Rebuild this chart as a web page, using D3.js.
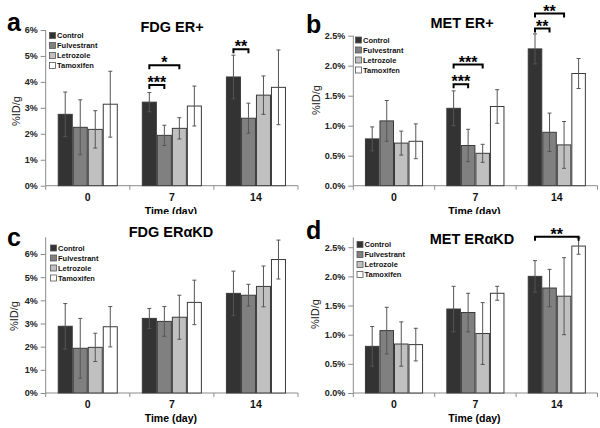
<!DOCTYPE html>
<html>
<head>
<meta charset="utf-8">
<script src="https://cdn.jsdelivr.net/npm/d3@7"></script>
<style>
  body { margin: 0; background: #fff; }
  svg { display: block; font-family: "Liberation Sans", Arial, sans-serif; }
</style>
</head>
<body>
<div id="chart"></div>
<script>
// time points and treatment groups
const days = ["0", "7", "14"];
const treatments = ["Control", "Fulvestrant", "Letrozole", "Tamoxifen"];
const fills = ["#333333", "#808080", "#c0c0c0", "#ffffff"];

// mean %ID/g, one row per day, columns follow treatments
const fdgErPos = [[2.75, 2.25, 2.17, 3.14], [3.22, 1.94, 2.21, 3.07], [4.19, 2.60, 3.49, 3.79]];
const fdgErPosErr = [[0.86, 1.06, 0.72, 1.27], [0.37, 0.39, 0.41, 0.77], [0.84, 0.58, 0.74, 1.44]];

const metErPos = [[0.78, 1.08, 0.71, 0.74], [1.29, 0.67, 0.54, 1.32], [2.28, 0.89, 0.68, 1.87]];
const metErPosErr = [[0.20, 0.34, 0.20, 0.29], [0.29, 0.27, 0.15, 0.28], [0.25, 0.32, 0.39, 0.25]];

const fdgErKd = [[2.88, 1.93, 1.97, 2.86], [3.22, 3.09, 3.27, 3.91], [4.30, 4.22, 4.60, 5.76]];
const fdgErKdErr = [[0.98, 1.29, 0.61, 0.87], [0.43, 0.64, 0.95, 0.96], [0.96, 0.47, 0.88, 0.84]];

const metErKd = [[0.80, 1.07, 0.84, 0.83], [1.44, 1.38, 1.02, 1.71], [2.00, 1.80, 1.66, 2.52]];
const metErKdErr = [[0.34, 0.40, 0.38, 0.28], [0.39, 0.33, 0.53, 0.12], [0.27, 0.32, 0.66, 0.14]];

// y ticks (in %)
const ticksFdg = [0, 1, 2, 3, 4, 5, 6];
const ticksMet = [0, 0.5, 1.0, 1.5, 2.0, 2.5];

// significance brackets: day, from/to treatment index, level (%), label
const sigFdgErPos = [
  { day: "7", from: 0, to: 1, level: 3.88, label: "***" },
  { day: "7", from: 0, to: 2, level: 4.64, label: "*" },
  { day: "14", from: 0, to: 1, level: 5.26, label: "**" }
];
const sigMetErPos = [
  { day: "7", from: 0, to: 1, level: 1.69, label: "***" },
  { day: "7", from: 0, to: 2, level: 2.02, label: "***" },
  { day: "14", from: 0, to: 1, level: 2.62, label: "**" },
  { day: "14", from: 0, to: 2, level: 2.87, label: "**" }
];
const sigFdgErKd = [];
const sigMetErKd = [
  { day: "14", from: 0, to: 3, level: 2.68, label: "**" }
];

const W = 600, H = 428;

const svg = d3.select("#chart")
  .append("svg")
  .attr("width", W)
  .attr("height", H);

const panels = [
  { letter: "a", title: "FDG ER+", mean: fdgErPos, err: fdgErPosErr, sig: sigFdgErPos, ticks: ticksFdg, fmt: d => d + "%", max: 6,
    clip: [0, 0, 300, 214], left: 45.7, right: 298, bottom: 185.7, top: 30, letterPos: [7, 31], titlePos: [172, 32],
    legend: [49, 35.5], ylab: [16, 111] },
  { letter: "b", title: "MET ER+", mean: metErPos, err: metErPosErr, sig: sigMetErPos, ticks: ticksMet, fmt: d => d.toFixed(1) + "%", max: 2.5,
    clip: [300, 0, 300, 214], left: 353.3, right: 597.5, bottom: 185.7, top: 35.7, letterPos: [306, 33], titlePos: [462, 28],
    legend: [355, 40], ylab: [316, 100] },
  { letter: "c", title: "FDG ERαKD", mean: fdgErKd, err: fdgErKdErr, sig: sigFdgErKd, ticks: ticksFdg, fmt: d => d + "%", max: 6.72,
    clip: [0, 214, 300, 214], left: 45.7, right: 298, bottom: 393, top: 237.3, letterPos: [7, 246], titlePos: [171, 237],
    legend: [50, 248], ylab: [14, 316] },
  { letter: "d", title: "MET ERαKD", mean: metErKd, err: metErKdErr, sig: sigMetErKd, ticks: ticksMet, fmt: d => d.toFixed(1) + "%", max: 2.67,
    clip: [300, 214, 300, 214], left: 353.3, right: 597.5, bottom: 393, top: 237.3, letterPos: [306, 239], titlePos: [472, 244],
    legend: [356.5, 244.5], ylab: [315, 314] }
];

panels.forEach((p, i) => {
  svg.append("clipPath").attr("id", "clip" + i)
    .append("rect")
    .attr("x", p.clip[0]).attr("y", p.clip[1])
    .attr("width", p.clip[2]).attr("height", p.clip[3]);

  const g = svg.append("g").attr("clip-path", `url(#clip${i})`);

  const x0 = d3.scaleBand()
    .domain(days)
    .range([p.left, p.right])
    .paddingInner(0.286)
    .paddingOuter(0.143);

  const x1 = d3.scaleBand()
    .domain(d3.range(treatments.length))
    .range([0, x0.bandwidth()]);

  const y = d3.scaleLinear()
    .domain([0, p.max])
    .range([p.bottom, p.top]);

  // y axis
  const yAxis = g.append("g")
    .attr("transform", `translate(${p.left},0)`)
    .call(d3.axisLeft(y).tickValues(p.ticks).tickFormat(p.fmt).tickSize(5).tickPadding(3));
  yAxis.select(".domain").attr("stroke", "#8c8c8c").attr("d", `M-0,${p.bottom}V${p.top}`);
  yAxis.selectAll(".tick line").attr("stroke", "#8c8c8c");
  yAxis.selectAll(".tick text")
    .attr("fill", "#222")
    .style("font-size", "9px")
    .style("font-weight", "bold");

  // x axis
  const xAxis = g.append("g")
    .attr("transform", `translate(0,${p.bottom})`)
    .call(d3.axisBottom(x0).tickSize(0).tickPadding(8));
  xAxis.select(".domain").attr("stroke", "#8c8c8c").attr("d", `M${p.left},0H${p.right}`);
  xAxis.selectAll(".tick text")
    .attr("fill", "#111")
    .style("font-size", "10.5px")
    .style("font-weight", "bold");

  // category boundary ticks
  const step = x0.step();
  const bounds = days.map(d => x0(d) - step * x0.paddingInner() / 2).concat([p.right]);
  g.append("g")
    .selectAll("line")
    .data(bounds)
    .join("line")
    .attr("x1", d => d).attr("x2", d => d)
    .attr("y1", p.bottom).attr("y2", p.bottom + 4)
    .attr("stroke", "#8c8c8c");

  // bars
  const rows = [];
  days.forEach((d, di) => {
    treatments.forEach((t, ti) => {
      rows.push({ day: d, ti: ti, v: p.mean[di][ti], e: p.err[di][ti] });
    });
  });

  g.append("g")
    .selectAll("rect")
    .data(rows)
    .join("rect")
    .attr("x", d => x0(d.day) + x1(d.ti) + 0.5)
    .attr("y", d => y(d.v))
    .attr("width", x1.bandwidth() - 1)
    .attr("height", d => y(0) - y(d.v))
    .attr("fill", d => fills[d.ti])
    .attr("stroke", "#3a3a3a")
    .attr("stroke-width", 1);

  // error bars
  const eb = g.append("g")
    .attr("stroke", "#555")
    .attr("stroke-width", 1)
    .selectAll("g")
    .data(rows)
    .join("g")
    .attr("transform", d => `translate(${x0(d.day) + x1(d.ti) + x1.bandwidth() / 2},0)`);
  eb.append("line")
    .attr("y1", d => y(d.v + d.e)).attr("y2", d => y(d.v - d.e));
  eb.append("line")
    .attr("x1", -2).attr("x2", 2)
    .attr("y1", d => y(d.v + d.e)).attr("y2", d => y(d.v + d.e));
  eb.append("line")
    .attr("x1", -2).attr("x2", 2)
    .attr("y1", d => y(d.v - d.e)).attr("y2", d => y(d.v - d.e));

  // significance brackets
  const cx = (day, ti) => x0(day) + x1(ti) + x1.bandwidth() / 2;
  const sg = g.append("g")
    .selectAll("g")
    .data(p.sig)
    .join("g");
  sg.append("path")
    .attr("d", s => `M${cx(s.day, s.from)},${y(s.level) + 4}V${y(s.level)}H${cx(s.day, s.to)}V${y(s.level) + 4}`)
    .attr("fill", "none")
    .attr("stroke", "#000")
    .attr("stroke-width", 2);
  sg.append("text")
    .attr("x", s => (cx(s.day, s.from) + cx(s.day, s.to)) / 2)
    .attr("y", s => y(s.level) + 3)
    .attr("text-anchor", "middle")
    .style("font-size", "16px")
    .style("font-weight", "bold")
    .text(s => s.label);

  // legend
  const lg = g.append("g")
    .attr("transform", `translate(${p.legend[0]},${p.legend[1]})`)
    .selectAll("g")
    .data(treatments)
    .join("g")
    .attr("transform", (d, k) => `translate(0,${k * 10})`);
  lg.append("rect")
    .attr("x", 0.5).attr("y", -3)
    .attr("width", 6).attr("height", 6)
    .attr("fill", (d, k) => fills[k])
    .attr("stroke", "#555")
    .attr("stroke-width", 0.8);
  lg.append("text")
    .attr("x", 8).attr("y", 2.8)
    .style("font-size", "7.5px")
    .style("font-weight", "bold")
    .attr("fill", "#111")
    .text(d => d);

  // titles and labels
  g.append("text")
    .attr("x", p.letterPos[0]).attr("y", p.letterPos[1])
    .style("font-size", "25px")
    .style("font-weight", "bold")
    .text(p.letter);

  g.append("text")
    .attr("x", p.titlePos[0]).attr("y", p.titlePos[1])
    .attr("text-anchor", "middle")
    .style("font-size", "14.5px")
    .style("font-weight", "bold")
    .text(p.title);

  g.append("text")
    .attr("transform", `translate(${p.ylab[0]},${p.ylab[1]}) rotate(-90)`)
    .attr("text-anchor", "middle")
    .attr("dy", "0.35em")
    .style("font-size", "11px")
    .attr("fill", "#222")
    .text("%ID/g");

  g.append("text")
    .attr("x", (p.left + p.right) / 2 - 1)
    .attr("y", p.bottom + 29)
    .attr("text-anchor", "middle")
    .style("font-size", "10.5px")
    .style("font-weight", "bold")
    .text("Time (day)");
});
</script>
</body>
</html>
